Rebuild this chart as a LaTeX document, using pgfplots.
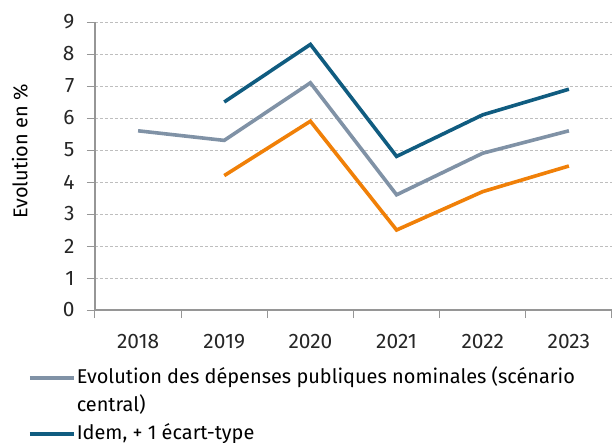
\documentclass[border=0pt]{standalone}
\usepackage{fontspec}
\setmainfont{Fira Sans}
\usepackage{pgfplots}
\pgfplotsset{compat=1.18}
\definecolor{cgrey}{RGB}{128,146,166}
\definecolor{cblue}{RGB}{16,92,128}
\definecolor{corange}{RGB}{240,128,8}
\definecolor{caxis}{RGB}{150,150,150}
\definecolor{cgrid}{RGB}{190,190,190}
\newcommand{\cf}{\fontsize{21}{25}\selectfont}
\newcommand{\lf}{\fontsize{20}{24}\selectfont}
\begin{document}
\begin{tikzpicture}
\path[use as bounding box] (-95bp,-133bp) rectangle (518bp,310bp);
\begin{axis}[
  at={(0,0)}, anchor=south west,
  scale only axis, width=517bp, height=288bp,
  xmin=-0.5, xmax=5.5, ymin=0, ymax=9,
  axis x line*=bottom, axis y line*=left,
  axis line style={draw=caxis, line width=1.2bp},
  xtick={0,...,5}, xticklabels={2018,2019,2020,2021,2022,2023},
  minor xtick={-0.5,0.5,...,5.5},
  ytick={0,...,9},
  tick align=outside,
  major tick length=8bp, minor tick length=8bp,
  major x tick style={draw=none},
  minor x tick style={draw=caxis, line width=1bp},
  major y tick style={draw=caxis, line width=1bp},
  ymajorgrids,
  major grid style={draw=cgrid, line width=0.8bp, dash pattern=on 3bp off 2bp},
  /pgf/number format/assume math mode=true,
  tick label style={font=\cf, text=black!85},
  yticklabel style={xshift=-9bp},
  xticklabel style={yshift=-13bp},
  ylabel={Evolution en \%},
  ylabel style={font=\lf, at={(rel axis cs:0,0.55)}, anchor=center, yshift=75bp},
  legend style={at={(rel axis cs:0,0)}, anchor=north west, xshift=-67bp, yshift=-57bp,
    draw=none, fill=none, inner sep=0pt, row sep=6bp,
    nodes={font=\lf, inner sep=1bp, text height=15bp, text depth=5bp}, cells={anchor=west}},
  legend cell align=left,
  legend image code/.code={\draw[#1] (0bp,0bp) -- (44bp,0bp);},
  every axis plot/.append style={line width=3.6bp, line join=miter, line cap=butt},
  clip=false,
]
\addplot[cgrey] coordinates {(0,5.6) (1,5.3) (2,7.1) (3,3.6) (4,4.9) (5,5.6)};
\addlegendentry{Evolution des dépenses publiques nominales (scénario}
\addlegendimage{empty legend}
\addlegendentry{central)}
\addplot[cblue] coordinates {(1,6.5) (2,8.3) (3,4.8) (4,6.1) (5,6.9)};
\addlegendentry{Idem, + 1 écart-type}
\addplot[corange] coordinates {(1,4.2) (2,5.9) (3,2.5) (4,3.7) (5,4.5)};
\addlegendentry{Idem, - 1 écart-type}
\end{axis}
\end{tikzpicture}
\end{document}
